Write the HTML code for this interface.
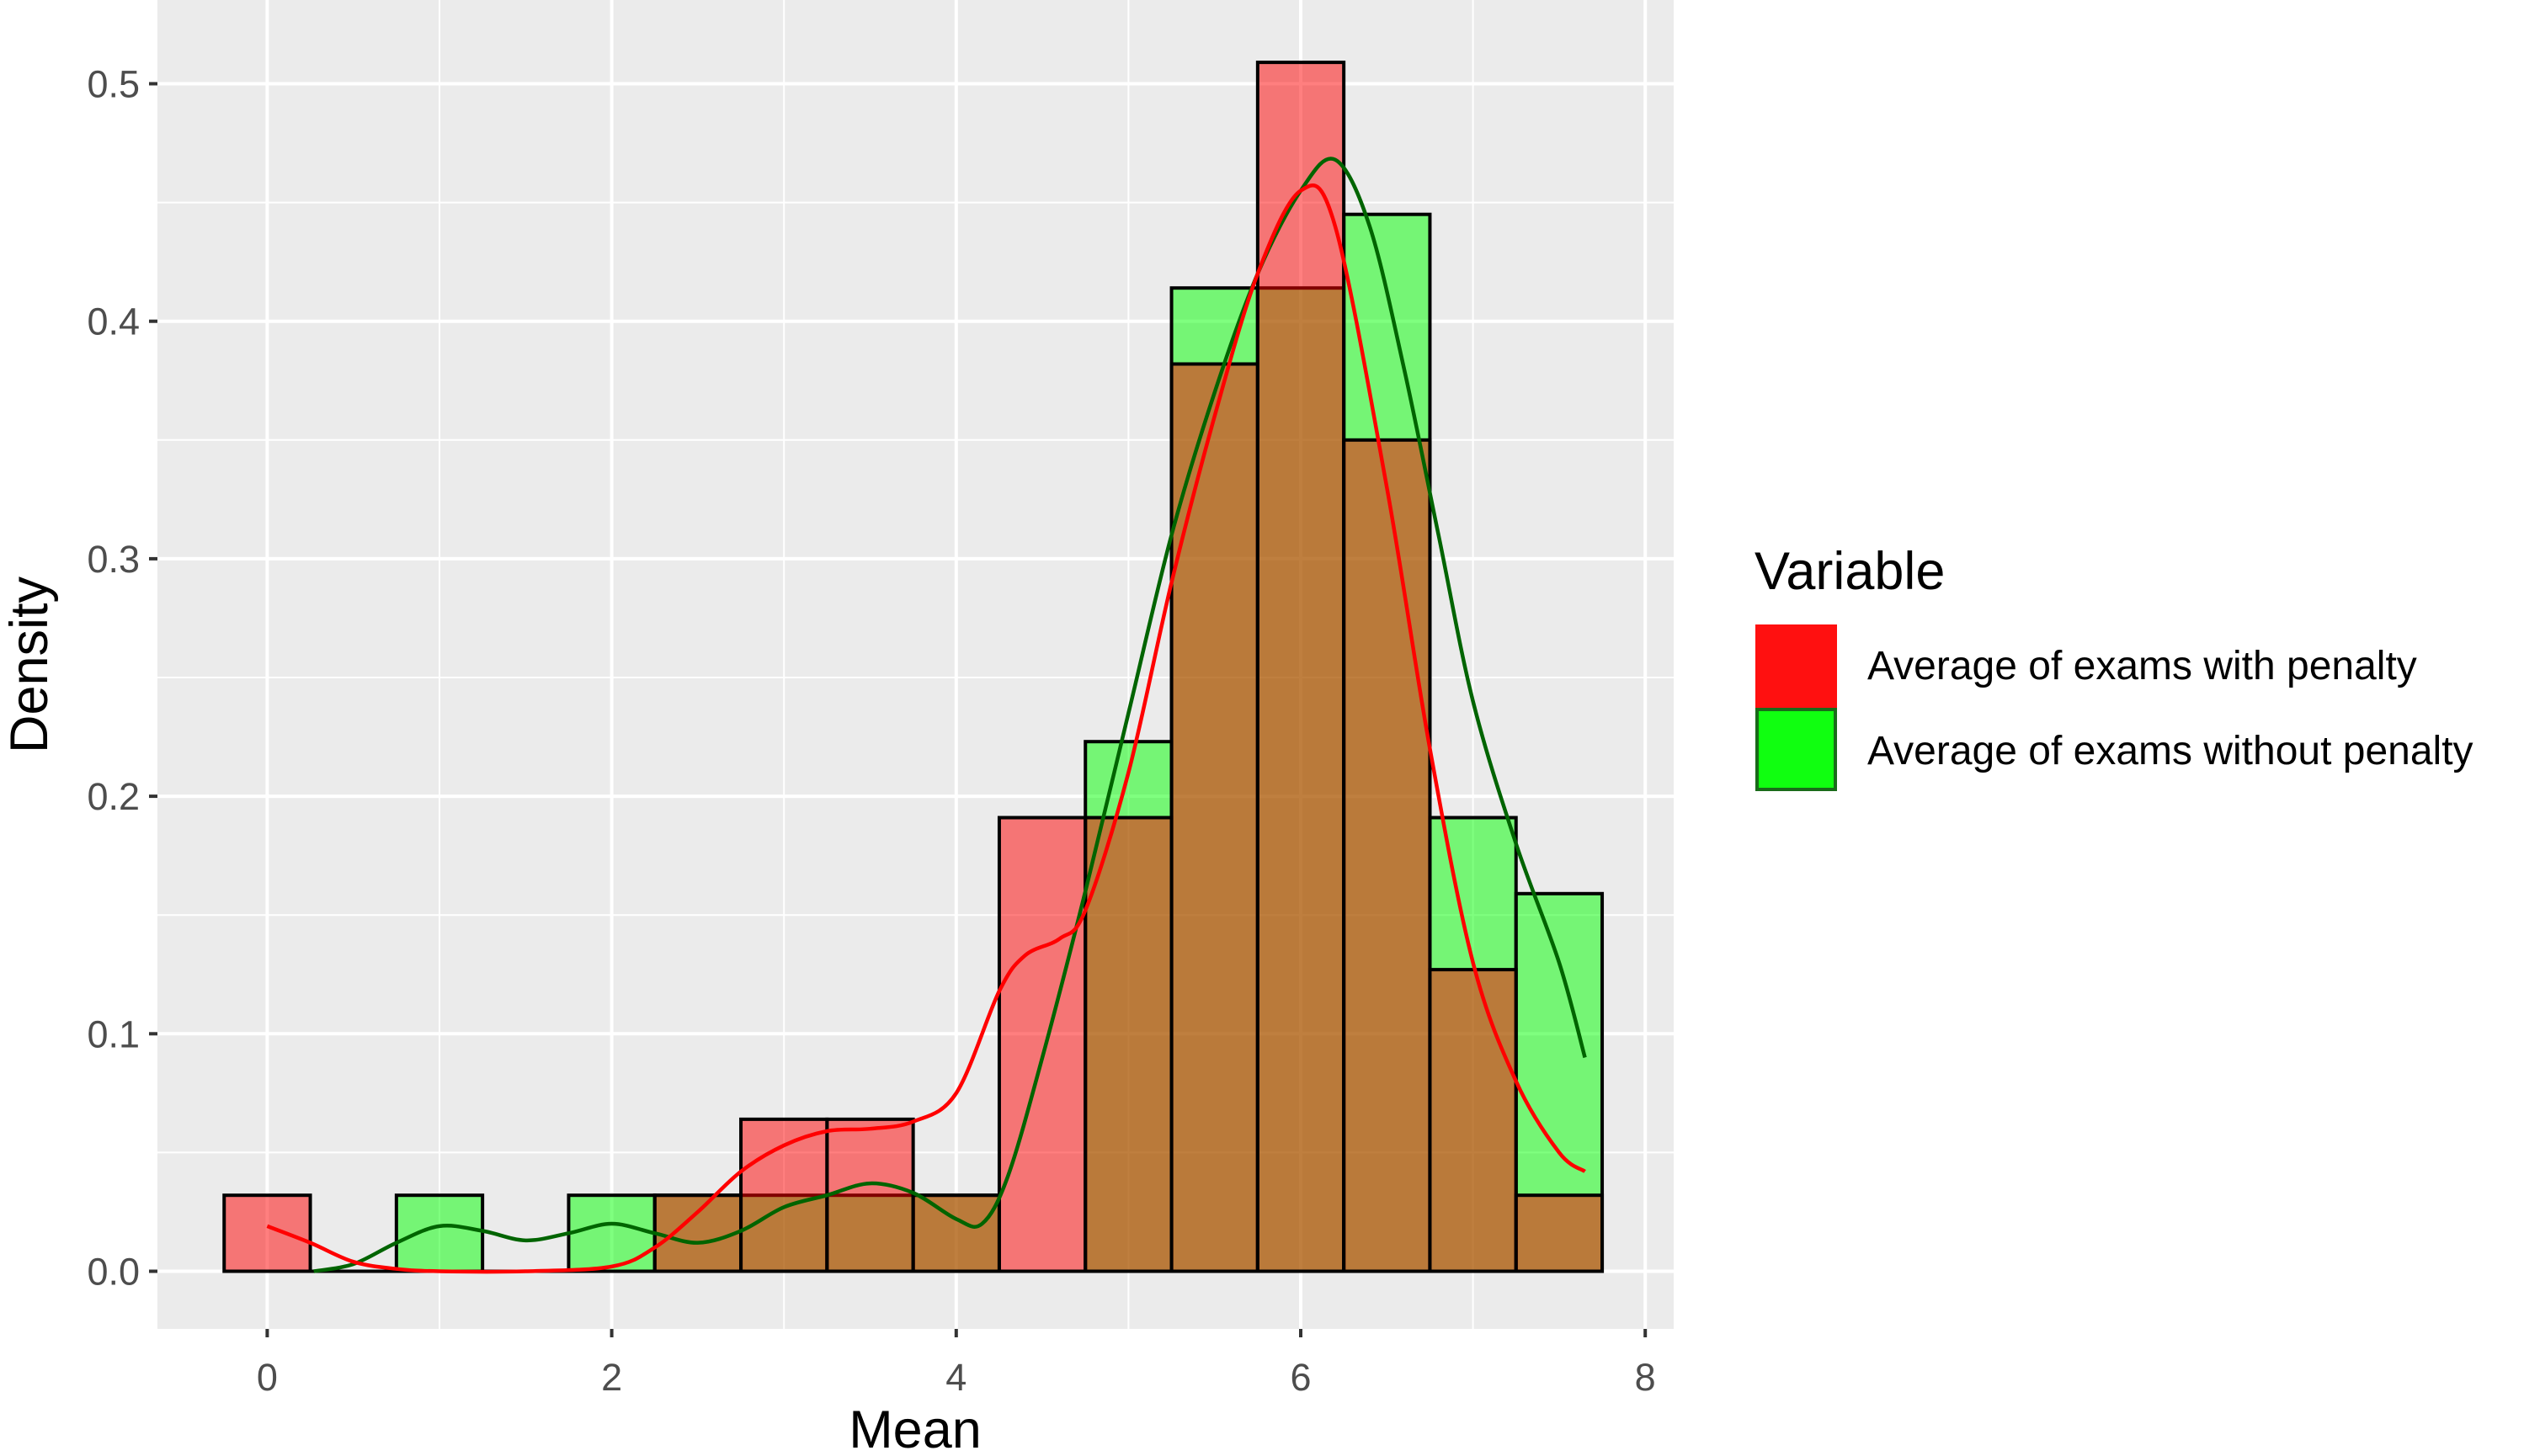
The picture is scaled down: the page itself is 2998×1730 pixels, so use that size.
<!DOCTYPE html>
<html><head><meta charset="utf-8"><style>
html,body{margin:0;padding:0;background:#fff;}
svg{display:block;font-family:"Liberation Sans",sans-serif;}
</style></head><body>
<svg id="chart" width="2998" height="1730" viewBox="0 0 2998 1730" xmlns="http://www.w3.org/2000/svg"></svg>
<script>
const binCenters=[0,0.5,1,1.5,2,2.5,3,3.5,4,4.5,5,5.5,6,6.5,7,7.5];
const penaltyDensity=[0.032,0,0,0,0,0.032,0.064,0.064,0.032,0.191,0.191,0.382,0.509,0.350,0.127,0.032];
const noPenaltyDensity=[0,0,0.032,0,0.032,0.032,0.032,0.032,0.032,0,0.223,0.414,0.414,0.445,0.191,0.159];
const penaltyCurveX=[0,0.25,0.5,0.75,1,1.5,2,2.25,2.5,2.75,3,3.25,3.5,3.75,4,4.25,4.4,4.6,4.75,5,5.25,5.5,5.75,6,6.2,6.5,6.75,7,7.25,7.5,7.65];
const penaltyCurveY=[0.019,0.012,0.004,0.001,0,0,0.002,0.01,0.025,0.042,0.053,0.059,0.06,0.063,0.075,0.118,0.133,0.14,0.152,0.21,0.29,0.36,0.42,0.455,0.44,0.33,0.22,0.13,0.08,0.05,0.042];
const noPenaltyCurveX=[0.27,0.5,0.75,1,1.25,1.5,1.75,2,2.25,2.5,2.75,3,3.25,3.5,3.75,4,4.15,4.3,4.5,4.75,5,5.25,5.5,5.75,6,6.2,6.4,6.6,6.8,7,7.25,7.5,7.65];
const noPenaltyCurveY=[0,0.003,0.012,0.019,0.017,0.013,0.016,0.02,0.016,0.012,0.017,0.027,0.032,0.037,0.033,0.022,0.02,0.04,0.09,0.16,0.235,0.31,0.37,0.42,0.455,0.468,0.44,0.38,0.31,0.24,0.18,0.13,0.09];
const xTicks=[0,2,4,6,8];
const xTickLabels=["0","2","4","6","8"];
const yTicks=[0,0.1,0.2,0.3,0.4,0.5];
const yTickLabels=["0.0","0.1","0.2","0.3","0.4","0.5"];
const binWidth=0.5;

const NS="http://www.w3.org/2000/svg";
const svg=document.getElementById('chart');
const PL=187,PR=1988,PT=0,PB=1579;
const X=v=>317.4+v*204.6;
const Y=v=>1510.5-v*2822;
function mk(t,a,p){const e=document.createElementNS(NS,t);for(const k in a)e.setAttribute(k,a[k]);(p||svg).appendChild(e);return e;}

const panel=mk('rect',{x:PL,y:PT,width:PR-PL,height:PB-PT,fill:'#EBEBEB'});


const grid=mk('g',{});


for(let v=-1;v<=9;v++){const x=X(v);if(x<PL||x>PR)continue;mk('line',{x1:x,x2:x,y1:PT,y2:PB,stroke:'#fff','stroke-width':v%2===0?4:2},grid);}
for(let i=0;i<=10;i++){const v=i*0.05;const y=Y(v);if(y<PT||y>PB)continue;mk('line',{x1:PL,x2:PR,y1:y,y2:y,stroke:'#fff','stroke-width':i%2===0?4:2},grid);}

function bars(vals,fill,name){
  const g=mk('g',{});
  
  
  vals.forEach((v,i)=>{if(v<=0)return;const c=binCenters[i];
    const r=mk('rect',{x:X(c-binWidth/2),y:Y(v),width:X(c+binWidth/2)-X(c-binWidth/2),height:Y(0)-Y(v),fill:fill,'fill-opacity':0.5,stroke:'#000','stroke-width':4},g);
    
    
  });
  mk('line',{x1:X(binCenters[0]-binWidth/2),x2:X(binCenters[binCenters.length-1]+binWidth/2),y1:Y(0),y2:Y(0),stroke:'#000','stroke-width':4},g);
}
bars(noPenaltyDensity,'#00FF00','bars-without-penalty');
bars(penaltyDensity,'#FF0000','bars-with-penalty');

function curve(xs,ys,color,name){
  const p=xs.map((x,i)=>[X(x),Y(ys[i])]);
  let d='M'+p[0][0]+','+p[0][1];
  for(let i=0;i<p.length-1;i++){
    const p0=p[i-1]||p[i],p1=p[i],p2=p[i+1],p3=p[i+2]||p2;
    const c1=[p1[0]+(p2[0]-p0[0])/6,p1[1]+(p2[1]-p0[1])/6];
    const c2=[p2[0]-(p3[0]-p1[0])/6,p2[1]-(p3[1]-p1[1])/6];
    d+=' C'+c1+' '+c2+' '+p2;
  }
  const e=mk('path',{d:d,fill:'none',stroke:color,'stroke-width':4.5});
  
  
}
curve(noPenaltyCurveX,noPenaltyCurveY,'#006400','density-curve-without-penalty');
curve(penaltyCurveX,penaltyCurveY,'#FF0000','density-curve-with-penalty');

const xa=mk('g',{});


xTicks.forEach((v,i)=>{mk('line',{x1:X(v),x2:X(v),y1:PB,y2:PB+10,stroke:'#333','stroke-width':4},xa);
  const t=mk('text',{x:X(v),y:1652,'text-anchor':'middle','font-size':45,fill:'#4D4D4D'},xa);t.textContent=xTickLabels[i];
  
  });
const ya=mk('g',{});


yTicks.forEach((v,i)=>{mk('line',{x1:PL-10,x2:PL,y1:Y(v),y2:Y(v),stroke:'#333','stroke-width':4},ya);
  const t=mk('text',{x:166,y:Y(v)+16,'text-anchor':'end','font-size':45,fill:'#4D4D4D'},ya);t.textContent=yTickLabels[i];
  
  });
</script>
<svg style="position:absolute;left:0;top:0" width="2998" height="1730">
<text x="1087" y="1720" text-anchor="middle" font-size="63" fill="#000">Mean</text>
<text transform="translate(56,790) rotate(-90)" text-anchor="middle" font-size="63" fill="#000">Density</text>
<g>
<text x="2084" y="700" font-size="63" fill="#000">Variable</text>
<g>
<rect x="2085" y="742" width="97" height="99" fill="#FF1010"/>
<text x="2218" y="807" font-size="48" fill="#000">Average of exams with penalty</text></g>
<g>
<rect x="2087" y="843" width="93" height="95" fill="#10FF10" stroke="#1a6b1a" stroke-width="4"/>
<text x="2218" y="908" font-size="48" fill="#000">Average of exams without penalty</text></g>
</g>
</svg>
</body></html>
